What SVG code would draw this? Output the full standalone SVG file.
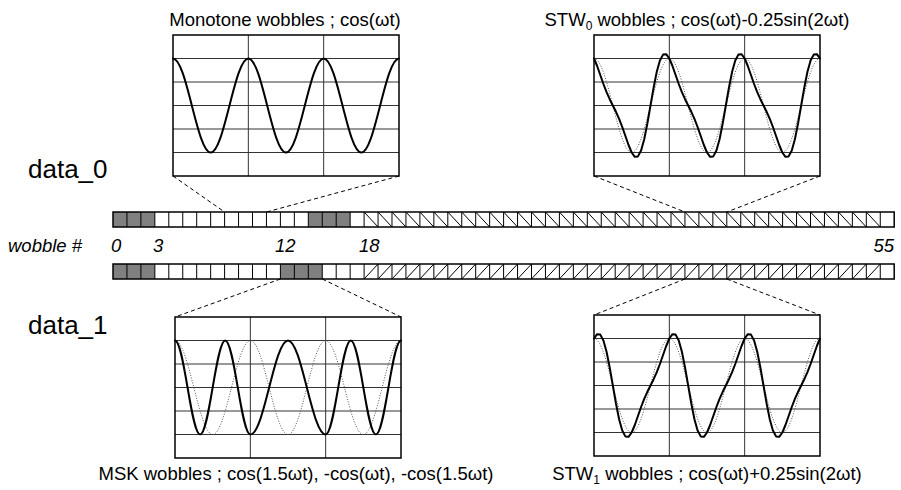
<svg xmlns="http://www.w3.org/2000/svg" xmlns:xlink="http://www.w3.org/1999/xlink" width="901" height="490" viewBox="0 0 901 490">
<style>
.t{font-family:"Liberation Sans",Arial,sans-serif;fill:#000}
.lbl{font-size:18.5px;text-anchor:middle}
.big{font-size:26px}
.it{font-style:italic;font-size:18.5px}
.bg{fill:#fff}
.frame{fill:none;stroke:#000;stroke-width:1.5}
.grid{stroke:#333;stroke-width:1;fill:none}
.sol{fill:none;stroke:#000;stroke-width:2;stroke-linejoin:round;stroke-linecap:round}
.dot{fill:none;stroke:#555;stroke-width:1;stroke-dasharray:1 1.6}
.conn{stroke:#000;stroke-width:1;stroke-dasharray:4 3;fill:none}
.gray{fill:#808080}
.cell{stroke:#000;stroke-width:1;fill:none}
</style>
<defs>
<g id="grid">
<rect class="bg" x="0" y="0" width="226" height="141"/>
<path class="grid" d="M75.33,0V141M150.67,0V141M0,23.5H226M0,47H226M0,70.5H226M0,94H226M0,117.5H226"/>
</g>
<rect id="frame" class="frame" x="0" y="0" width="226" height="141"/>
<path id="cosw" d="M0,23.5C13.69,23.5 23.98,117.5 37.67,117.5S61.64,23.5 75.33,23.5S99.31,117.5 113,117.5S136.98,23.5 150.67,23.5S174.64,117.5 188.33,117.5S212.31,23.5 226,23.5"/>
<path id="div" d="M13.95,0v15m13.95-15v15m13.95-15v15m13.95-15v15m13.95-15v15m13.95-15v15m13.95-15v15
m13.95-15v15m13.95-15v15m13.95-15v15m13.95-15v15m13.95-15v15m13.95-15v15
m13.95-15v15m13.95-15v15m13.95-15v15m13.95-15v15m13.95-15v15m13.95-15v15
m13.95-15v15m13.95-15v15m13.95-15v15m13.95-15v15m13.95-15v15m13.95-15v15
m13.95-15v15m13.95-15v15m13.95-15v15m13.95-15v15m13.95-15v15m13.95-15v15
m13.95-15v15m13.95-15v15m13.95-15v15m13.95-15v15m13.95-15v15m13.95-15v15
m13.95-15v15m13.95-15v15m13.95-15v15m13.95-15v15m13.95-15v15m13.95-15v15
m13.95-15v15m13.95-15v15m13.95-15v15m13.95-15v15m13.95-15v15m13.95-15v15
m13.95-15v15m13.95-15v15m13.95-15v15m13.95-15v15m13.95-15v15m13.95-15v15"/>
<path id="hdn" d="M251.1,0l13.95,15
m0-15l13.95,15m0-15l13.95,15m0-15l13.95,15m0-15l13.95,15m0-15l13.95,15m0-15l13.95,15
m0-15l13.95,15m0-15l13.95,15m0-15l13.95,15m0-15l13.95,15m0-15l13.95,15m0-15l13.95,15
m0-15l13.95,15m0-15l13.95,15m0-15l13.95,15m0-15l13.95,15m0-15l13.95,15m0-15l13.95,15
m0-15l13.95,15m0-15l13.95,15m0-15l13.95,15m0-15l13.95,15m0-15l13.95,15m0-15l13.95,15
m0-15l13.95,15m0-15l13.95,15m0-15l13.95,15m0-15l13.95,15m0-15l13.95,15m0-15l13.95,15
m0-15l13.95,15m0-15l13.95,15m0-15l13.95,15m0-15l13.95,15m0-15l13.95,15m0-15l13.95,15"/>
<path id="hup" d="M251.1,15l13.95-15
m0,15l13.95-15m0,15l13.95-15m0,15l13.95-15m0,15l13.95-15m0,15l13.95-15m0,15l13.95-15
m0,15l13.95-15m0,15l13.95-15m0,15l13.95-15m0,15l13.95-15m0,15l13.95-15m0,15l13.95-15
m0,15l13.95-15m0,15l13.95-15m0,15l13.95-15m0,15l13.95-15m0,15l13.95-15m0,15l13.95-15
m0,15l13.95-15m0,15l13.95-15m0,15l13.95-15m0,15l13.95-15m0,15l13.95-15m0,15l13.95-15
m0,15l13.95-15m0,15l13.95-15m0,15l13.95-15m0,15l13.95-15m0,15l13.95-15m0,15l13.95-15
m0,15l13.95-15m0,15l13.95-15m0,15l13.95-15m0,15l13.95-15m0,15l13.95-15m0,15l13.95-15"/>
</defs>

<g id="labels" class="t">
<text class="big" x="28" y="178">data_0</text>
<text class="big" x="28" y="334">data_1</text>
<text class="it" x="8" y="252">wobble #</text>
<text class="it" x="111" y="252">0</text>
<text class="it" x="153" y="252">3</text>
<text class="it" x="275" y="252">12</text>
<text class="it" x="359" y="252">18</text>
<text class="it" x="894" y="252" text-anchor="end">55</text>
</g>

<g id="bar-data0" transform="translate(113,212)">
<rect class="bg" x="0" y="0" width="781.2" height="15"/>
<rect class="gray" x="0" y="0" width="41.85" height="15"/>
<rect class="gray" x="195.3" y="0" width="41.85" height="15"/>
<use xlink:href="#hdn" class="cell"/>
<use xlink:href="#div" class="cell"/>
<rect class="frame" x="0" y="0" width="781.2" height="15"/>
</g>

<g id="bar-data1" transform="translate(113,264)">
<rect class="bg" x="0" y="0" width="781.2" height="15"/>
<rect class="gray" x="0" y="0" width="41.85" height="15"/>
<rect class="gray" x="167.4" y="0" width="41.85" height="15"/>
<use xlink:href="#hup" class="cell"/>
<use xlink:href="#div" class="cell"/>
<rect class="frame" x="0" y="0" width="781.2" height="15"/>
</g>

<g id="connectors" class="conn">
<path d="M173,176L224.6,212M399,176L266.45,212"/>
<path d="M594,176L684.95,212M820,176L726.8,212"/>
<path d="M280.4,279L175,317M322.25,279L401,317"/>
<path d="M684.95,279L594,315M726.8,279L820,315"/>
</g>

<g id="plot-monotone" transform="translate(173,35)">
<use xlink:href="#grid"/>
<use xlink:href="#cosw" class="sol"/>
<use xlink:href="#frame"/>
<text class="t lbl" x="112" y="-9">Monotone wobbles ; cos(ωt)</text>
</g>

<g id="plot-stw0" transform="translate(594,35)">
<use xlink:href="#grid"/>
<use xlink:href="#cosw" class="dot"/>
<path class="sol" d="M0,23.5l3.139,7.5 3.139,9 3.139,9 3.139,8.2 3.139,7 3.139,6.3 3.139,6.3 3.139,7 3.139,8.2 3.139,9 3.139,9 3.139,7.5 3.139,4.3 3.139-0.4 3.139-5.9 3.139-11.3 3.139-15.7 3.139-18 3.139-18 3.139-15.7 3.139-11.3 3.139-5.9 3.139-0.4 3.139,4.3
l3.139,7.5 3.139,9 3.139,9 3.139,8.2 3.139,7 3.139,6.3 3.139,6.3 3.139,7 3.139,8.2 3.139,9 3.139,9 3.139,7.5 3.139,4.3 3.139-0.4 3.139-5.9 3.139-11.3 3.139-15.7 3.139-18 3.139-18 3.139-15.7 3.139-11.3 3.139-5.9 3.139-0.4 3.139,4.3
l3.139,7.5 3.139,9 3.139,9 3.139,8.2 3.139,7 3.139,6.3 3.139,6.3 3.139,7 3.139,8.2 3.139,9 3.139,9 3.139,7.5 3.139,4.3 3.139-0.4 3.139-5.9 3.139-11.3 3.139-15.7 3.139-18 3.139-18 3.139-15.7 3.139-11.3 3.139-5.9 3.139-0.4 3.139,4.3"/>
<use xlink:href="#frame"/>
<text class="t lbl" x="103" y="-9">STW<tspan font-size="12" dy="4">0</tspan><tspan dy="-4"> wobbles ; cos(ωt)-0.25sin(2ωt)</tspan></text>
</g>

<g id="plot-msk" transform="translate(175,317)">
<use xlink:href="#grid"/>
<use xlink:href="#cosw" class="dot"/>
<path class="sol" d="M0,23.5C9.13,23.5 15.98,117.5 25.11,117.5S41.09,23.5 50.22,23.5S66.2,117.5 75.33,117.5C89.02,117.5 99.31,23.5 113,23.5S136.98,117.5 150.67,117.5C159.8,117.5 166.65,23.5 175.78,23.5S191.76,117.5 200.89,117.5S216.87,23.5 226,23.5"/>
<use xlink:href="#frame"/>
<text class="t lbl" x="121" y="163">MSK wobbles ; cos(1.5ωt), -cos(ωt), -cos(1.5ωt)</text>
</g>

<g id="plot-stw1" transform="translate(594,315)">
<use xlink:href="#grid"/>
<use xlink:href="#cosw" class="dot"/>
<path class="sol" d="M0,23.5l3.139-4.3 3.139,0.4 3.139,5.9 3.139,11.3 3.139,15.7 3.139,18 3.139,18 3.139,15.7 3.139,11.3 3.139,5.9 3.139,0.4 3.139-4.3 3.139-7.5 3.139-9 3.139-9 3.139-8.2 3.139-7 3.139-6.3 3.139-6.3 3.139-7 3.139-8.2 3.139-9 3.139-9 3.139-7.5
l3.139-4.3 3.139,0.4 3.139,5.9 3.139,11.3 3.139,15.7 3.139,18 3.139,18 3.139,15.7 3.139,11.3 3.139,5.9 3.139,0.4 3.139-4.3 3.139-7.5 3.139-9 3.139-9 3.139-8.2 3.139-7 3.139-6.3 3.139-6.3 3.139-7 3.139-8.2 3.139-9 3.139-9 3.139-7.5
l3.139-4.3 3.139,0.4 3.139,5.9 3.139,11.3 3.139,15.7 3.139,18 3.139,18 3.139,15.7 3.139,11.3 3.139,5.9 3.139,0.4 3.139-4.3 3.139-7.5 3.139-9 3.139-9 3.139-8.2 3.139-7 3.139-6.3 3.139-6.3 3.139-7 3.139-8.2 3.139-9 3.139-9 3.139-7.5"/>
<use xlink:href="#frame"/>
<text class="t lbl" x="113" y="165">STW<tspan font-size="12" dy="4">1</tspan><tspan dy="-4"> wobbles ; cos(ωt)+0.25sin(2ωt)</tspan></text>
</g>
</svg>
